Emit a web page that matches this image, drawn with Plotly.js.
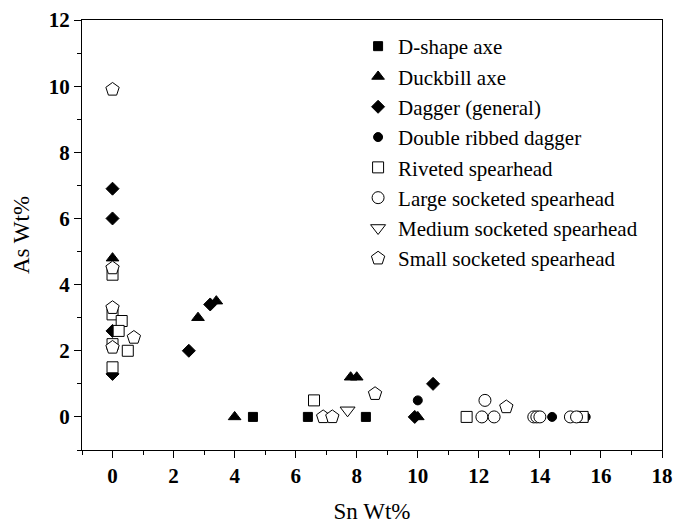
<!DOCTYPE html>
<html>
<head>
<meta charset="utf-8">
<script src="https://cdn.plot.ly/plotly-3.0.1.min.js"></script>
<style>html,body{margin:0;padding:0;background:#fff;}#chart{width:673px;height:524px;}</style>
</head>
<body>
<div id="chart"></div>
<script>
// Series names
const seriesNames = ["D-shape axe","Duckbill axe","Dagger (general)","Double ribbed dagger","Riveted spearhead","Large socketed spearhead","Medium socketed spearhead","Small socketed spearhead"];

// Sn Wt% (x) and As Wt% (y) per series
const dshapeSn = [4.6, 6.4, 8.3];
const dshapeAs = [0, 0, 0];

const duckbillSn = [0, 2.8, 3.4, 4.0, 7.8, 8.0, 10.0];
const duckbillAs = [4.8, 3.0, 3.5, 0, 1.2, 1.2, 0];

const daggerSn = [0, 0, 0, 0, 2.5, 3.2, 9.9, 10.5];
const daggerAs = [6.9, 6.0, 2.6, 1.3, 2.0, 3.4, 0, 1.0];

const doubleSn = [10.0, 14.4, 15.5];
const doubleAs = [0.5, 0, 0];

const rivetedSn = [0, 0, 0.3, 0.2, 0, 0.5, 0, 6.6, 11.6, 15.4];
const rivetedAs = [4.3, 3.1, 2.9, 2.6, 2.2, 2.0, 1.5, 0.5, 0, 0];

const largeSn = [12.1, 12.2, 12.5, 13.8, 13.9, 14.0, 15.0, 15.2];
const largeAs = [0, 0.5, 0, 0, 0, 0, 0, 0];

const mediumSn = [7.7];
const mediumAs = [0.2];

const smallSn = [0, 0, 0, 0.7, 0, 6.9, 7.2, 8.6, 12.9];
const smallAs = [9.9, 4.5, 3.3, 2.4, 2.1, 0, 0, 0.7, 0.3];

const xTickVals = [0, 2, 4, 6, 8, 10, 12, 14, 16, 18];
const yTickVals = [0, 2, 4, 6, 8, 10, 12];

const xs = [dshapeSn, duckbillSn, daggerSn, doubleSn, rivetedSn, largeSn, mediumSn, smallSn];
const ys = [dshapeAs, duckbillAs, daggerAs, doubleAs, rivetedAs, largeAs, mediumAs, smallAs];
const symbols = ["square", "triangle-up", "diamond", "circle", "square", "circle", "triangle-down", "pentagon"];
const filled = [true, true, true, true, false, false, false, false];
const sizes = [9, 11, 10, 9, 11, 12, 13, 14];

const traces = seriesNames.map((n, i) => ({
  type: "scatter",
  mode: "markers",
  name: n,
  x: xs[i],
  y: ys[i],
  marker: {
    symbol: symbols[i],
    size: sizes[i],
    color: filled[i] ? "black" : "white",
    line: {color: "black", width: 1}
  }
}));

const serif = "Liberation Serif, Times New Roman, serif";

const layout = {
  width: 673,
  height: 524,
  margin: {l: 82, r: 11, t: 20, b: 74},
  paper_bgcolor: "white",
  plot_bgcolor: "white",
  showlegend: true,
  legend: {
    x: 0.476, y: 0.986, xanchor: "left", yanchor: "top",
    bgcolor: "rgba(0,0,0,0)",
    font: {family: serif, size: 21, color: "black"}
  },
  xaxis: {
    range: [-1, 18],
    tickvals: xTickVals,
    ticks: "outside", ticklen: 7, tickwidth: 1, tickcolor: "black",
    minor: {dtick: 1, tick0: 0, ticks: "outside", ticklen: 4, tickcolor: "black", tickwidth: 1},
    showline: true, mirror: true, linecolor: "black", linewidth: 1,
    showgrid: false, zeroline: false,
    tickfont: {family: serif, size: 21, color: "black", weight: "bold"},
    title: {text: "Sn Wt%", font: {family: serif, size: 23, color: "black"}, standoff: 16}
  },
  yaxis: {
    range: [-1, 12],
    tickvals: yTickVals,
    ticks: "outside", ticklen: 7, tickwidth: 1, tickcolor: "black",
    minor: {dtick: 1, tick0: 0, ticks: "outside", ticklen: 4, tickcolor: "black", tickwidth: 1},
    showline: true, mirror: true, linecolor: "black", linewidth: 1,
    showgrid: false, zeroline: false,
    tickfont: {family: serif, size: 21, color: "black", weight: "bold"},
    title: {text: "As Wt%", font: {family: serif, size: 23, color: "black"}, standoff: 12}
  }
};

Plotly.newPlot("chart", traces, layout, {displayModeBar: false, staticPlot: true});
</script>
</body>
</html>
